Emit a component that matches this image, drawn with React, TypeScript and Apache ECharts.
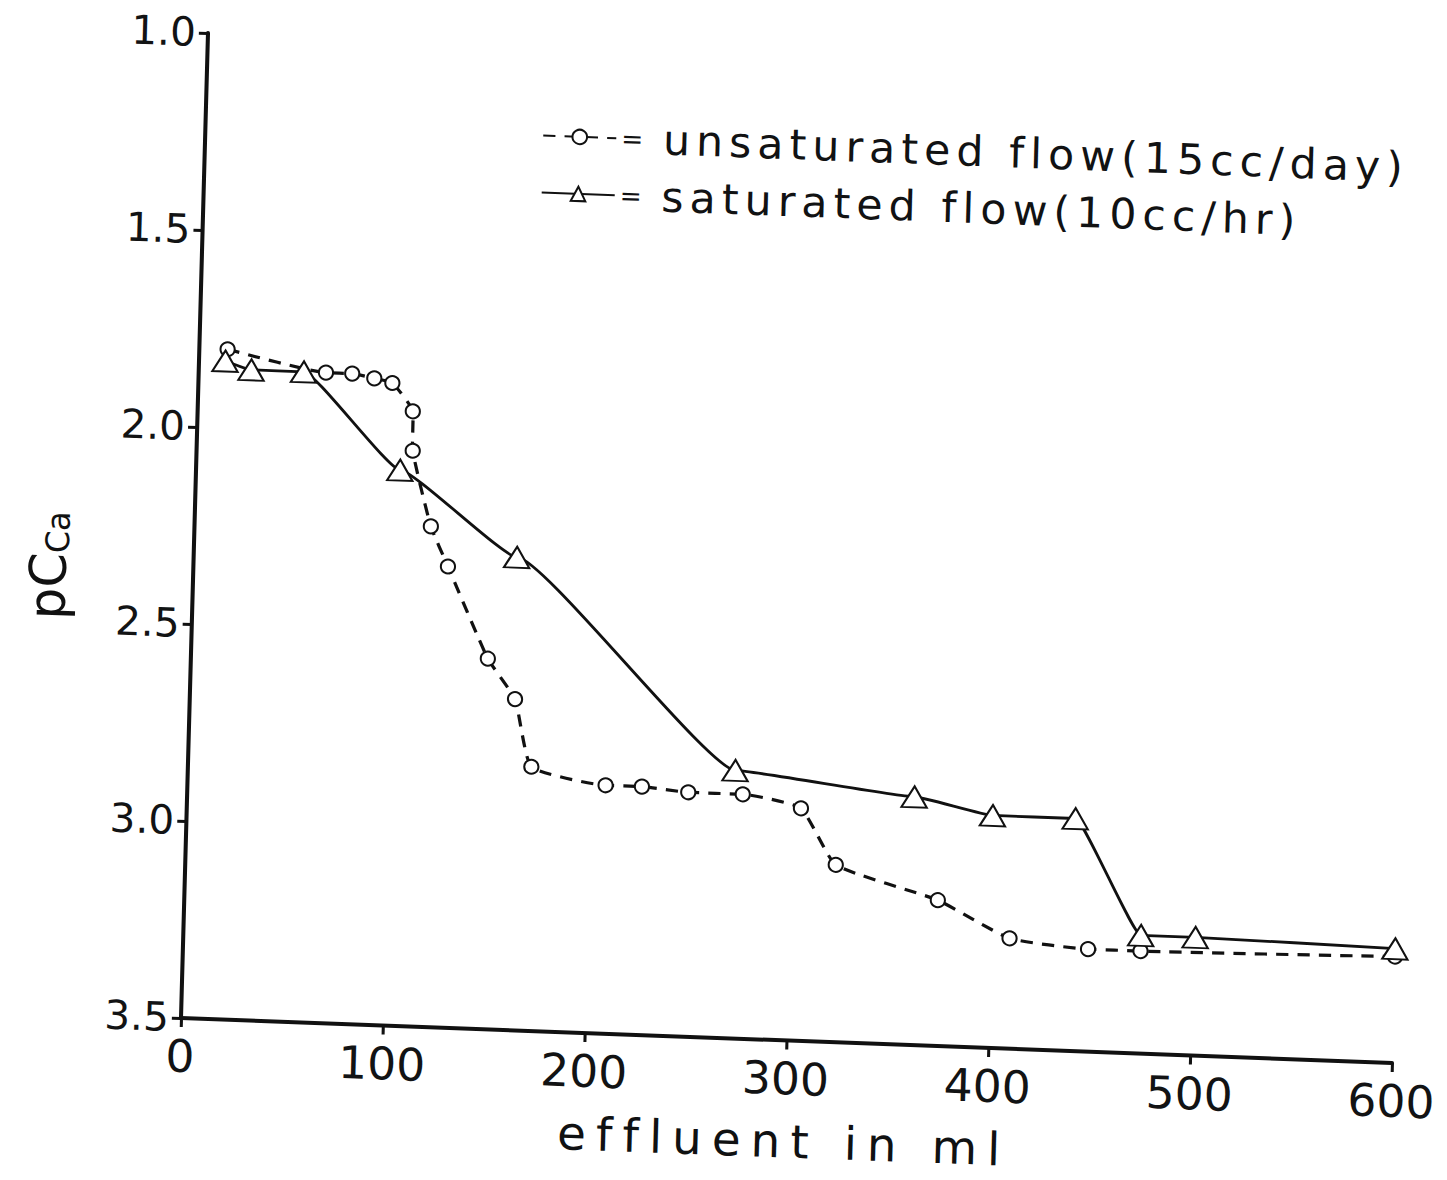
import React, { useEffect, useRef } from 'react';
import * as echarts from 'echarts';

const UNSAT_NAME = 'unsaturated flow(15cc/day)';
const SAT_NAME = 'saturated flow(10cc/hr)';

const unsatX = [14, 63, 76, 87, 96, 106.5, 107, 117, 126, 147, 161, 170, 207, 225, 248, 275, 304, 322, 373, 409, 448, 474, 600];
const unsatY = [1.80, 1.85, 1.85, 1.86, 1.87, 1.94, 2.04, 2.23, 2.33, 2.56, 2.66, 2.83, 2.87, 2.87, 2.88, 2.88, 2.91, 3.05, 3.13, 3.22, 3.24, 3.24, 3.23];

const satX = [13, 26, 52, 101, 160, 271, 360, 399, 440, 474, 501, 600];
const satY = [1.83, 1.85, 1.85, 2.09, 2.30, 2.82, 2.87, 2.91, 2.91, 3.20, 3.20, 3.21];

const xTicks = [0, 100, 200, 300, 400, 500, 600];
const yTicks = [1.0, 1.5, 2.0, 2.5, 3.0, 3.5];

const FONT = 'DejaVu Sans';
const INK = '#111111';
const TITLE_INK = '#101112';
const LEGEND_INK = '#111213';

export default function App() {
  const ref = useRef<HTMLDivElement>(null);

  useEffect(() => {
    if (!ref.current) return;
    const chart = echarts.init(ref.current, undefined, { renderer: 'svg' });
    const unsatData = unsatX.map((x, i) => [x, unsatY[i]]);
    const satData = satX.map((x, i) => [x, satY[i]]);
    chart.setOption({
      animation: false,
      backgroundColor: '#ffffff',
      grid: { left: 200, top: 60, width: 1212, height: 985 },
      legend: {
        orient: 'vertical',
        left: 527,
        top: 122,
        itemWidth: 72,
        itemHeight: 18,
        itemGap: 11,
        formatter: (name: string) => '{e|=} ' + name,
        textStyle: {
          fontSize: 42,
          lineHeight: 46,
          color: LEGEND_INK,
          fontFamily: FONT,
          rich: { e: { fontSize: 26, color: LEGEND_INK, fontFamily: FONT } },
        },
        data: [UNSAT_NAME, SAT_NAME],
      },
      xAxis: {
        type: 'value',
        min: xTicks[0],
        max: xTicks[xTicks.length - 1],
        interval: 100,
        axisLine: { onZero: false, lineStyle: { color: INK, width: 4 } },
        axisTick: { length: 9, lineStyle: { color: INK, width: 3 } },
        axisLabel: { fontSize: 45, margin: 16, color: '#121314', fontFamily: FONT },
        splitLine: { show: false },
        name: 'effluent in ml',
        nameLocation: 'middle',
        nameGap: 78,
        nameTextStyle: { fontSize: 46, color: TITLE_INK, fontFamily: FONT },
      },
      yAxis: {
        type: 'value',
        inverse: true,
        min: yTicks[0],
        max: yTicks[yTicks.length - 1],
        interval: 0.5,
        axisLine: { onZero: false, lineStyle: { color: INK, width: 4 } },
        axisTick: { length: 9, lineStyle: { color: INK, width: 3 } },
        axisLabel: {
          fontSize: 40,
          margin: 12,
          color: '#121314',
          fontFamily: FONT,
          formatter: (v: number) => v.toFixed(1),
        },
        splitLine: { show: false },
        name: '{a|pC}{b|Ca}',
        nameLocation: 'middle',
        nameRotate: 90,
        nameGap: 118,
        nameTextStyle: {
          padding: [0, 90, 0, 0],
          color: INK,
          rich: {
            a: { fontSize: 50, fontFamily: FONT, color: INK },
            b: { fontSize: 32, fontFamily: FONT, color: INK, padding: [18, 0, 0, 0] },
          },
        },
      },
      series: [
        {
          name: UNSAT_NAME,
          type: 'line',
          data: unsatData,
          smooth: 0.15,
          symbol: 'emptyCircle',
          symbolSize: 14,
          lineStyle: { color: INK, width: 3.2, type: [12, 9] },
          itemStyle: { color: INK, borderWidth: 2.8 },
        },
        {
          name: SAT_NAME,
          type: 'line',
          data: satData,
          smooth: 0.12,
          smoothMonotone: 'x',
          symbol: 'emptyTriangle',
          symbolSize: [25, 21],
          lineStyle: { color: INK, width: 2.8, type: 'solid' },
          itemStyle: { color: INK, borderWidth: 2.8 },
        },
      ],
    });
    return () => chart.dispose();
  }, []);

  return (
    <div
      style={{
        position: 'fixed',
        left: 0,
        top: 0,
        width: 1447,
        height: 1180,
        overflow: 'hidden',
        background: '#ffffff',
      }}
    >
      <style>{`
        .cx text[fill="${TITLE_INK}"] { letter-spacing: 10px; }
        .cx text[fill="${LEGEND_INK}"] { letter-spacing: 6px; }
      `}</style>
      <div
        ref={ref}
        className="cx"
        style={{
          position: 'absolute',
          left: 0,
          top: 0,
          width: 1440,
          height: 1190,
          transformOrigin: '0 0',
          transform: 'matrix(1.0142, 0.03766, -0.02741, 1, 6.8, -34.53)',
        }}
      />
    </div>
  );
}
